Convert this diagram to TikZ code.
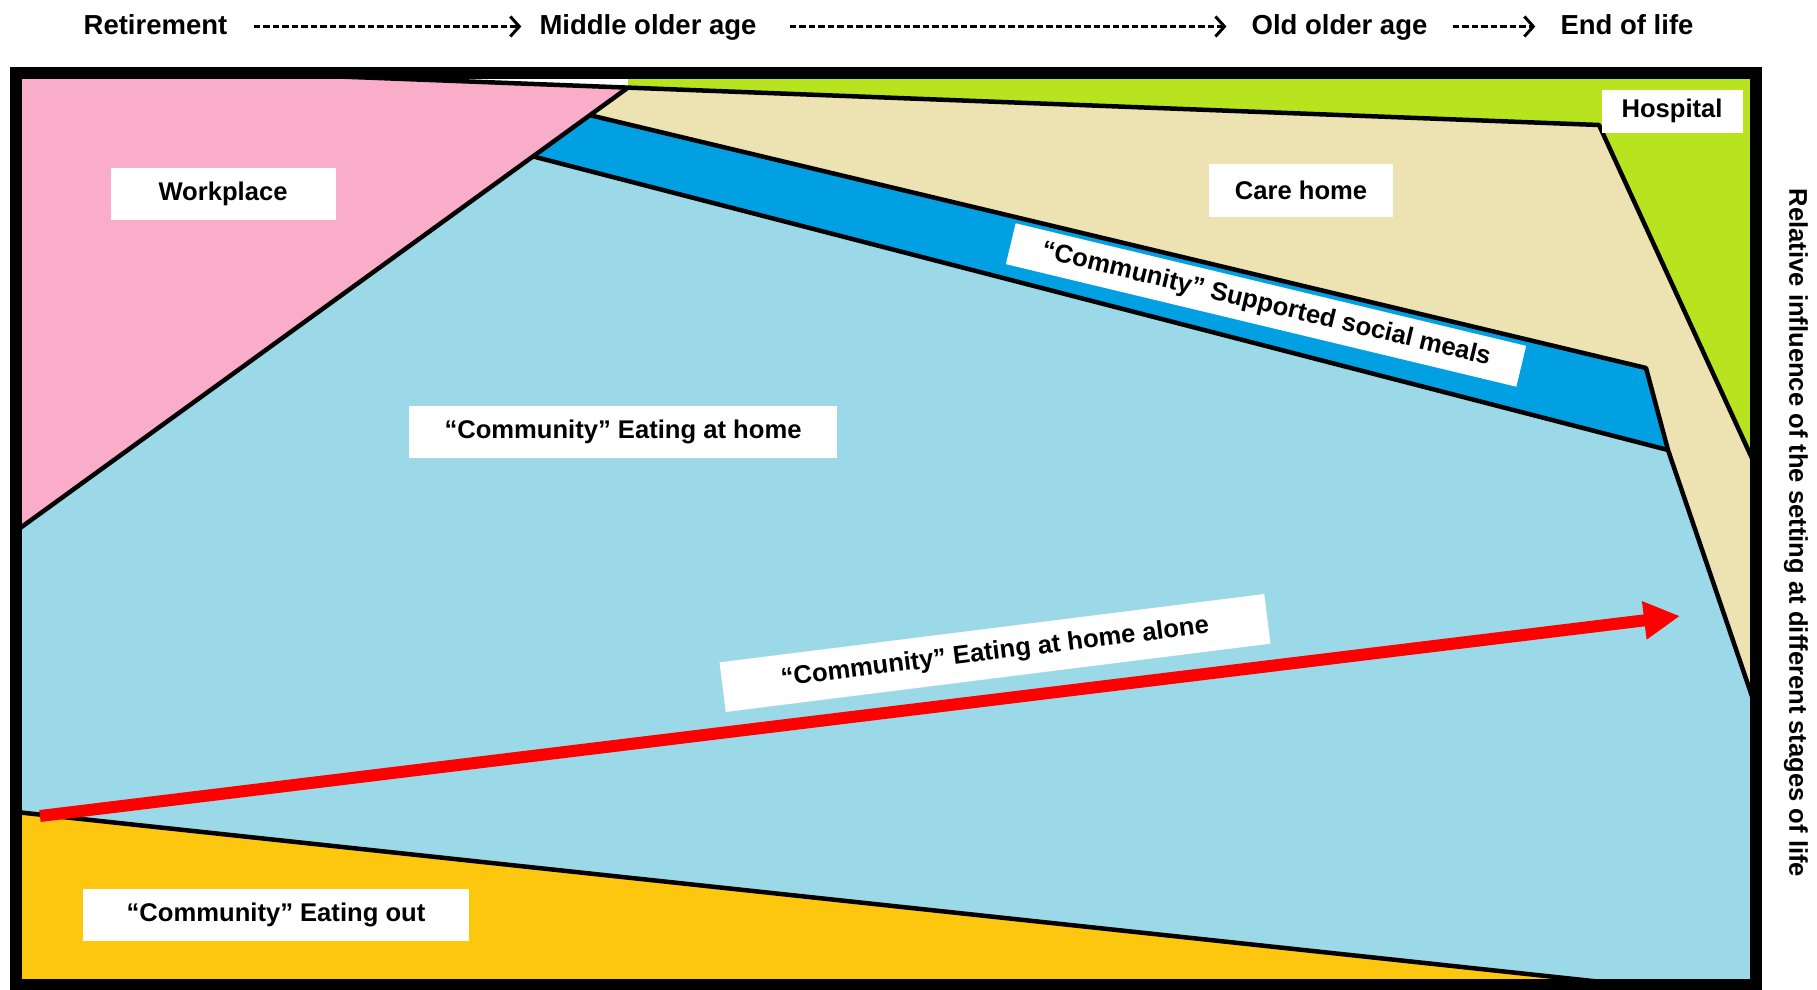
\documentclass[tikz,border=0pt]{standalone}
\usepackage{fontspec}
\setmainfont{Liberation Sans}
\usetikzlibrary{arrows.meta}
\definecolor{cpink}{RGB}{249,173,200}
\definecolor{cgreen}{RGB}{183,228,30}
\definecolor{cbeige}{RGB}{237,226,177}
\definecolor{cblue}{RGB}{0,160,227}
\definecolor{clight}{RGB}{155,216,232}
\definecolor{cyellow}{RGB}{253,199,15}
\newcommand\mylblfont{\bfseries\fontsize{25.6}{30}\selectfont}
\newcommand\myhdrfont{\bfseries\fontsize{27.5}{32}\selectfont}
\begin{document}
\begin{tikzpicture}[x=1pt,y=-1pt,
  edge/.style={line width=4.5pt, line join=round},
  lbl/.style={fill=white, inner sep=0pt, font=\mylblfont, align=center},
  hdr/.style={inner sep=0pt, anchor=base, font=\myhdrfont},
  hdrarrow/.style={line width=3pt, dash pattern=on 6.5pt off 3pt,
     -{Straight Barb[length=9pt,width=20pt,line width=3pt]}},
  redarrow/.style={draw=red, line width=12pt, -{Triangle[length=36pt,width=36pt]}},
]
\useasboundingbox (0,0) rectangle (1817,990);
% corner and vertex coordinates
\coordinate (TL) at (16,73);
\coordinate (TR) at (1756,73);
\coordinate (BR) at (1756,985);
\coordinate (BL) at (16,985);
\coordinate (T0) at (300,75);
\coordinate (AP) at (628,87.6);
\coordinate (APt) at (628,73);
\coordinate (H) at (1599,125);
\coordinate (GR) at (1756,467);
\coordinate (D0) at (16,531);
\coordinate (BB1) at (590,115.2);
\coordinate (BL1) at (533,156.4);
\coordinate (CB) at (1646,368);
\coordinate (CL) at (1668,450);
\coordinate (E2) at (1756,708);
\coordinate (Y0) at (16,812);
\coordinate (Y1) at (1630,985);
% regions
\fill[cpink] (TL) -- (T0) -- (AP) -- (D0) -- cycle;
\fill[cgreen] (AP) -- (APt) -- (TR) -- (GR) -- (H) -- cycle;
\fill[cbeige] (AP) -- (H) -- (GR) -- (E2) -- (CL) -- (CB) -- (BB1) -- cycle;
\fill[cblue] (BB1) -- (CB) -- (CL) -- (BL1) -- cycle;
\fill[clight] (BL1) -- (CL) -- (E2) -- (BR) -- (Y1) -- (Y0) -- (D0) -- cycle;
\fill[cyellow] (Y0) -- (Y1) -- (BL) -- cycle;
% boundaries
\draw[edge] (T0) -- (H) -- (GR);
\draw[edge] (D0) -- (AP);
\draw[edge] (BB1) -- (CB) -- (CL) -- (E2);
\draw[edge] (BL1) -- (CL);
\draw[edge] (Y0) -- (Y1);
% frame
\draw[line width=12pt] (TL) rectangle (BR);
% labels
\node[lbl, minimum width=225pt, minimum height=52pt] (work) at (223,194) {Workplace};
\node[lbl, minimum width=184pt, minimum height=53pt] (care) at (1301,190) {Care home};
\node[lbl, minimum width=141pt, minimum height=43pt] (hosp) at (1672,111) {Hospital};
\node[lbl, minimum width=428pt, minimum height=52pt] (home) at (623,432) {“Community” Eating at home};
\node[lbl, minimum width=386pt, minimum height=52pt] (out) at (276,915) {“Community” Eating out};
\node[lbl, minimum width=525pt, minimum height=42pt, rotate=-13.5] (social) at (1266,305) {“Community” Supported social meals};
% red arrow
\coordinate (ra) at (40,816);
\coordinate (rb) at (1680,616);
\draw[redarrow] (ra) -- (rb);
\node[lbl, minimum width=549pt, minimum height=50pt, rotate=7.15] (alone) at (995,653) {“Community” Eating at home alone};
% header
\node[hdr] (ret) at (155.5,35) {Retirement};
\node[hdr] (mid) at (648,35) {Middle older age};
\node[hdr] (old) at (1339.5,35) {Old older age};
\node[hdr] (eol) at (1627,35) {End of life};
\draw[hdrarrow] ([xshift=26pt,yshift=8.5pt]ret.base east) -- ([xshift=-18pt,yshift=8.5pt]mid.base west);
\draw[hdrarrow] ([xshift=33pt,yshift=8.5pt]mid.base east) -- ([xshift=-25pt,yshift=8.5pt]old.base west);
\draw[hdrarrow] ([xshift=25pt,yshift=8.5pt]old.base east) -- ([xshift=-25pt,yshift=8.5pt]eol.base west);
% side caption
\node[font=\mylblfont, rotate=-90, inner sep=0pt] (side) at (1796,533) {Relative influence of the setting at different stages of life};
\end{tikzpicture}
\end{document}
